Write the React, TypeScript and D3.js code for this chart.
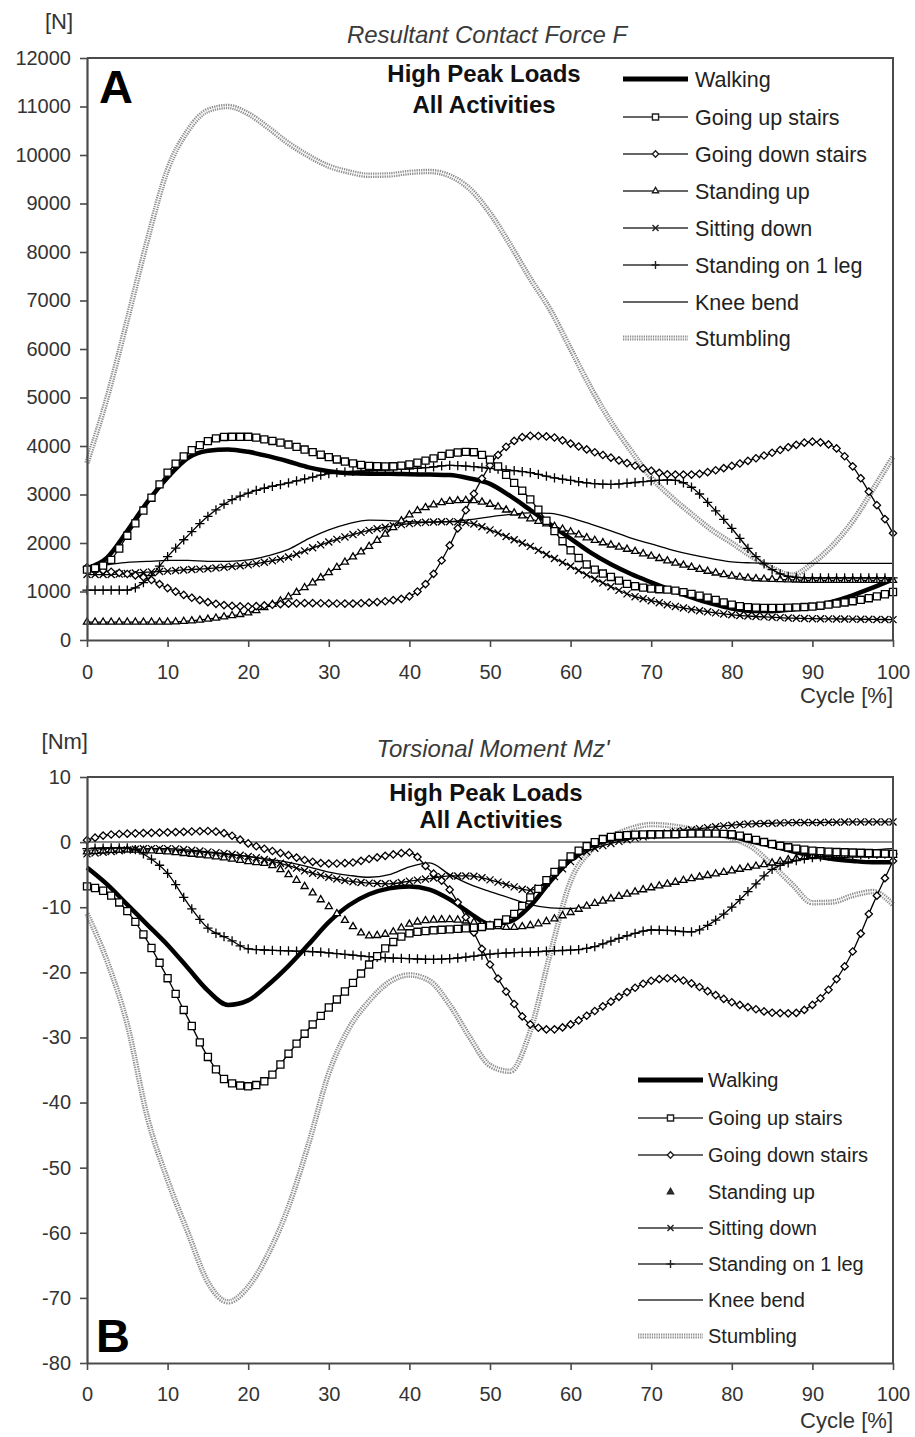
import React, { useEffect, useRef } from "react";
import * as d3 from "d3";

// ---------- data ----------
const cycle = [0, 2.5, 5, 7.5, 10, 12.5, 15, 17.5, 20, 22.5, 25, 27.5, 30, 32.5, 35, 37.5, 40, 42.5, 45, 47.5, 50, 52.5, 55, 57.5, 60, 62.5, 65, 67.5, 70, 72.5, 75, 77.5, 80, 82.5, 85, 87.5, 90, 92.5, 95, 97.5, 100];
const xTicks = [0, 10, 20, 30, 40, 50, 60, 70, 80, 90, 100];
const forceTicks = [0, 1000, 2000, 3000, 4000, 5000, 6000, 7000, 8000, 9000, 10000, 11000, 12000];
const momentTicks = [-80, -70, -60, -50, -40, -30, -20, -10, 0, 10];
const activities = ["Walking", "Going up stairs", "Going down stairs", "Standing up", "Sitting down", "Standing on 1 leg", "Knee bend", "Stumbling"];

// Panel A: resultant contact force F [N]
const walkingA = [1480, 1700, 2250, 2850, 3350, 3750, 3900, 3930, 3880, 3790, 3680, 3560, 3480, 3440, 3430, 3430, 3420, 3410, 3400, 3330, 3220, 2970, 2680, 2380, 2090, 1800, 1560, 1360, 1190, 1030, 880, 750, 650, 600, 595, 630, 690, 790, 920, 1080, 1250];
const upStairsA = [1450, 1580, 2150, 2800, 3450, 3850, 4100, 4190, 4190, 4120, 4030, 3900, 3770, 3660, 3590, 3580, 3620, 3720, 3840, 3880, 3720, 3320, 2900, 2350, 1850, 1500, 1300, 1130, 1060, 1030, 950, 850, 730, 670, 660, 670, 690, 740, 800, 880, 990];
const downStairsA = [1500, 1420, 1360, 1270, 1070, 900, 780, 710, 690, 720, 750, 760, 755, 750, 770, 810, 900, 1250, 1950, 2850, 3600, 4050, 4210, 4190, 4050, 3900, 3760, 3620, 3490, 3410, 3410, 3480, 3590, 3720, 3860, 4000, 4090, 4000, 3580, 2920, 2200];
const standingUpA = [370, 370, 370, 370, 370, 390, 430, 490, 560, 700, 890, 1130, 1390, 1660, 1930, 2250, 2580, 2760, 2860, 2880, 2800, 2650, 2500, 2370, 2230, 2080, 1960, 1850, 1730, 1610, 1500, 1400, 1320, 1270, 1250, 1240, 1230, 1230, 1230, 1230, 1230];
const sittingDownA = [1350, 1350, 1370, 1400, 1420, 1450, 1470, 1510, 1550, 1620, 1710, 1870, 2020, 2150, 2260, 2340, 2400, 2430, 2440, 2410, 2270, 2100, 1930, 1720, 1520, 1300, 1100, 920, 810, 710, 630, 570, 520, 490, 470, 450, 440, 435, 430, 425, 420];
const oneLegA = [1030, 1030, 1030, 1250, 1720, 2150, 2550, 2850, 3030, 3150, 3240, 3340, 3430, 3470, 3490, 3510, 3530, 3560, 3600, 3580, 3540, 3500, 3450, 3360, 3290, 3230, 3210, 3240, 3280, 3300, 3150, 2750, 2300, 1800, 1450, 1300, 1280, 1280, 1280, 1280, 1280];
const kneeBendA = [1500, 1550, 1600, 1620, 1640, 1640, 1620, 1620, 1650, 1740, 1870, 2090, 2270, 2400, 2470, 2460, 2440, 2430, 2440, 2480, 2540, 2590, 2620, 2610, 2520, 2390, 2250, 2100, 1980, 1860, 1760, 1680, 1610, 1590, 1580, 1580, 1580, 1580, 1580, 1580, 1580];
const stumblingA = [3650, 5000, 6600, 8250, 9700, 10500, 10920, 11000, 10850, 10560, 10240, 9980, 9770, 9650, 9580, 9590, 9640, 9660, 9570, 9300, 8800, 8150, 7450, 6800, 6000, 5200, 4500, 3900, 3350, 2950, 2600, 2270, 2000, 1720, 1480, 1340, 1580, 1950, 2450, 3100, 3780];

// Panel B: torsional moment Mz' [Nm]
const walkingB = [-3.9, -6.5, -9.6, -12.7, -15.8, -19.3, -22.8, -25, -24.3, -21.9, -19, -15.7, -12.3, -9.7, -8, -7.1, -6.8, -7.3, -8.8, -10.9, -12.6, -12.2, -9.8, -6, -2.7, -0.6, 0.4, 0.8, 0.9, 1, 1.1, 1.2, 0.8, 0.1, -0.6, -1.4, -2.1, -2.6, -2.9, -3.1, -3.1];
const upStairsB = [-6.8, -7.8, -10.6, -15.2, -20.9, -27, -33, -36.8, -37.5, -36.3, -32.5, -28.7, -25.4, -22.3, -18.8, -15.8, -14, -13.6, -13.4, -13.2, -12.8, -11.5, -8.5, -5.2, -2.2, -0.3, 0.8, 1.1, 1.2, 1.2, 1.3, 1.3, 1.2, 0.5, -0.3, -0.9, -1.3, -1.5, -1.6, -1.7, -1.8];
const downStairsB = [0.3, 1.1, 1.3, 1.4, 1.5, 1.6, 1.7, 1.2, -0.2, -1.2, -2, -2.9, -3.3, -3.2, -2.6, -2, -1.6, -4.3, -7.3, -12.7, -18.8, -23.9, -28, -28.8, -28, -26.3, -24.5, -22.7, -21.3, -20.9, -21.7, -23.2, -24.6, -25.5, -26.2, -26.3, -25, -21.9, -16.8, -9.6, -2.9];
const standingUpB = [-1.5, -1.3, -1.2, -1.3, -1.5, -1.8, -2.1, -2.5, -3, -3.4, -5, -7.3, -9.9, -12.5, -14.4, -14, -12.6, -12, -11.9, -12.2, -12.8, -13.1, -12.8, -12, -10.8, -9.6, -8.7, -7.8, -7, -6.3, -5.6, -5, -4.4, -3.8, -3.2, -2.6, -2.2, -2.1, -2, -2, -2];
const sittingDownB = [-1.8, -1.5, -1.2, -1, -1, -1.2, -1.5, -1.8, -2.2, -2.8, -3.6, -4.6, -5.4, -6, -6.3, -6.4, -6, -5.6, -5.2, -5.2, -5.8, -6.7, -7.4, -5.8, -3, -1.2, -0.2, 0.5, 1, 1.5, 1.9, 2.3, 2.6, 2.8, 2.9, 3, 3, 3.05, 3.1, 3.1, 3.1];
const oneLegB = [-1, -0.9, -0.9, -2.2, -4.8, -9.4, -13.2, -14.8, -16.4, -16.6, -16.7, -16.8, -17, -17.3, -17.6, -17.8, -17.9, -18, -17.9, -17.6, -17.2, -17, -16.9, -16.7, -16.6, -16.2, -15.2, -14.2, -13.5, -13.6, -13.8, -12.4, -10, -7, -4.2, -3, -2.4, -2.1, -2, -1.9, -1.8];
const kneeBendB = [-1.8, -1.6, -1.4, -1.2, -1.2, -1.4, -1.6, -1.9, -2.2, -2.6, -3.1, -3.8, -4.6, -5.1, -5.4, -5, -3.8, -3.2, -5, -6.5, -7.6, -8.6, -9.6, -10.1, -10.2, -9.7, -8.8, -7.9, -7.1, -6.4, -5.7, -5.1, -4.5, -3.9, -3.3, -2.7, -2.3, -2, -1.6, -1.2, -1];
const stumblingB = [-11, -18.3, -28, -42.3, -51.9, -59.9, -67.6, -70.6, -68.3, -63.2, -56, -46.3, -35.5, -28.6, -24.4, -21.5, -20.4, -21.3, -25, -30, -34.3, -35.2, -29, -17, -6, -1.3, 0.8, 2.1, 2.7, 2.5, 2, 1.4, 0.6, -0.8, -3.5, -6.5, -9.3, -9.2, -8.2, -7.6, -9.6];

// ---------- styles ----------
type Style = { width: number; marker: string | null; stumble?: boolean };
const stylesA: Style[] = [
  { width: 4.5, marker: null },
  { width: 1.3, marker: "square" },
  { width: 1.3, marker: "diamond" },
  { width: 1.3, marker: "triangle" },
  { width: 1.3, marker: "times" },
  { width: 1.3, marker: "plus" },
  { width: 1.3, marker: null },
  { width: 5, marker: null, stumble: true },
];
const stylesB: Style[] = stylesA.map((s, i) => (i === 3 ? { width: 0, marker: "triangle" } : s));

const FONT = "'Liberation Sans', Arial, Helvetica, sans-serif";
const drawOrder = [7, 6, 0, 4, 3, 5, 2, 1];

function symbolPath(type: string, scale = 1): string {
  const map: Record<string, [any, number]> = {
    square: [d3.symbolSquare2, 64],
    diamond: [d3.symbolDiamond2, 34],
    triangle: [d3.symbolTriangle2, 36],
    times: [d3.symbolTimes, 34],
    plus: [d3.symbolPlus, 30],
  };
  const [t, s] = map[type];
  return d3.symbol(t, s * scale)() as string;
}

function sampleAtX(node: SVGPathElement, xs: number[]): [number, number][] {
  const L = node.getTotalLength();
  const N = Math.max(400, Math.ceil(L));
  const pts: { x: number; y: number }[] = [];
  for (let i = 0; i <= N; i++) {
    const p = node.getPointAtLength((L * i) / N);
    pts.push({ x: p.x, y: p.y });
  }
  return xs.map((px) => {
    let lo = 0, hi = N;
    while (lo < hi) {
      const mid = (lo + hi) >> 1;
      if (pts[mid].x < px) lo = mid + 1; else hi = mid;
    }
    const b = pts[lo], a = pts[Math.max(0, lo - 1)];
    const t = b.x === a.x ? 0 : (px - a.x) / (b.x - a.x);
    return [px, a.y + (b.y - a.y) * t];
  });
}

type PanelCfg = {
  yDomain: [number, number];
  yRange: [number, number];
  yTicks: number[];
  data: number[][];
  styles: Style[];
  zeroLine: boolean;
  unit: string; unitX: number; unitY: number;
  title: string; titleX: number; titleY: number;
  head1Y: number; head2Y: number; head1X: number; head2X: number;
  letter: string; letterX: number; letterY: number;
  cycleY: number; tickPad: number;
  legX0: number; legX1: number; legTextX: number; legYs: number[]; legFont: number;
};

function drawPanel(svg: any, x: d3.ScaleLinear<number, number>, p: PanelCfg) {
  const g = svg.append("g");
  const y = d3.scaleLinear().domain(p.yDomain).range(p.yRange);
  const [yMin, yMax] = p.yDomain;
  const axisColor = "#4a4a4a";

  if (p.zeroLine) {
    g.append("line").attr("x1", x(0)).attr("x2", x(100)).attr("y1", y(0)).attr("y2", y(0))
      .attr("stroke", "#8c8c8c").attr("stroke-width", 2);
  }

  // series
  const line = d3.line<number>().x((_, i) => x(cycle[i])).y((d) => y(d)).curve(d3.curveMonotoneX);
  const markerXs = d3.range(0, 101, 1).map((k) => x(k));
  const layer = g.append("g");
  drawOrder.forEach((si) => {
    const st = p.styles[si];
    const d = line(p.data[si]) as string;
    if (st.stumble) {
      layer.append("path").attr("d", d).attr("fill", "none").attr("stroke", "#8e8e8e")
        .attr("stroke-width", 5.5).attr("stroke-dasharray", "1.3 1");
      layer.append("path").attr("d", d).attr("fill", "none").attr("stroke", "#ffffff")
        .attr("stroke-width", 1.2).attr("opacity", 0.8);
      return;
    }
    const path = layer.append("path").attr("d", d).attr("fill", "none")
      .attr("stroke", st.width > 0 ? "#000" : "none").attr("stroke-width", st.width)
      .attr("stroke-linejoin", "round");
    if (st.marker) {
      const pts = sampleAtX(path.node() as SVGPathElement, markerXs);
      const sym = symbolPath(st.marker);
      layer.append("g").selectAll("path").data(pts).join("path")
        .attr("d", sym)
        .attr("transform", (q: [number, number]) => `translate(${q[0]},${q[1]})`)
        .attr("fill", st.marker === "times" || st.marker === "plus" ? "none" : "#fff")
        .attr("stroke", "#000").attr("stroke-width", 1.3);
    }
  });

  // frame
  g.append("path").attr("d", `M${x(0)},${y(yMax)}H${x(100)}V${y(yMin)}`)
    .attr("fill", "none").attr("stroke", axisColor).attr("stroke-width", 2);

  // axes
  const ax = g.append("g").attr("transform", `translate(0,${y(yMin)})`)
    .call(d3.axisBottom(x).tickValues(xTicks).tickSize(7).tickPadding(p.tickPad).tickSizeOuter(0).tickFormat((v: any) => String(v)));
  const ay = g.append("g").attr("transform", `translate(${x(0)},0)`)
    .call(d3.axisLeft(y).tickValues(p.yTicks).tickSize(7).tickPadding(9).tickSizeOuter(0).tickFormat((v: any) => String(v)));
  [ax, ay].forEach((a) => {
    a.select(".domain").attr("stroke", axisColor).attr("stroke-width", 2.2);
    a.selectAll(".tick line").attr("stroke", axisColor).attr("stroke-width", 1.6);
    a.selectAll(".tick text").attr("fill", "#333").attr("font-size", 20).attr("font-family", FONT);
  });

  // texts
  const txt = (s: string, tx: number, ty: number, size: number, opts: any = {}) =>
    g.append("text").text(s).attr("x", tx).attr("y", ty).attr("font-size", size)
      .attr("font-family", FONT).attr("fill", opts.fill || "#333")
      .attr("text-anchor", opts.anchor || "start")
      .attr("font-weight", opts.weight || "normal")
      .attr("font-style", opts.style || "normal");

  txt(p.unit, p.unitX, p.unitY, 22, { anchor: "end" });
  txt(p.title, p.titleX, p.titleY, 24, { anchor: "middle", style: "italic", fill: "#3a3a3a" });
  txt("High Peak Loads", p.head1X, p.head1Y, 24, { anchor: "middle", weight: "bold", fill: "#111" });
  txt("All Activities", p.head2X, p.head2Y, 24, { anchor: "middle", weight: "bold", fill: "#111" });
  txt(p.letter, p.letterX, p.letterY, 47, { weight: "bold", fill: "#000" });
  txt("Cycle [%]", x(100), p.cycleY, 22, { anchor: "end" });

  // legend
  const lg = g.append("g");
  activities.forEach((name, i) => {
    const st = p.styles[i];
    const ly = p.legYs[i];
    const mid = (p.legX0 + p.legX1) / 2;
    if (st.stumble) {
      lg.append("line").attr("x1", p.legX0).attr("x2", p.legX1).attr("y1", ly).attr("y2", ly)
        .attr("stroke", "#8e8e8e").attr("stroke-width", 5).attr("stroke-dasharray", "1.3 1");
      lg.append("line").attr("x1", p.legX0).attr("x2", p.legX1).attr("y1", ly).attr("y2", ly)
        .attr("stroke", "#fff").attr("stroke-width", 1.1).attr("opacity", 0.8);
    } else if (st.width > 0) {
      lg.append("line").attr("x1", p.legX0).attr("x2", p.legX1).attr("y1", ly).attr("y2", ly)
        .attr("stroke", i === 0 ? "#000" : "#333").attr("stroke-width", i === 0 ? 5 : 1.6);
    }
    if (st.marker) {
      const filled = st.width === 0;
      lg.append("path").attr("d", symbolPath(st.marker, 0.75))
        .attr("transform", `translate(${mid},${ly})`)
        .attr("fill", filled ? "#333" : st.marker === "times" || st.marker === "plus" ? "none" : "#fff")
        .attr("stroke", "#222").attr("stroke-width", 1.4);
    }
    txt(name, p.legTextX, ly + p.legFont * 0.36, p.legFont, { fill: "#222" });
  });
}

export default function App() {
  const ref = useRef<SVGSVGElement>(null);
  useEffect(() => {
    const svg = d3.select(ref.current);
    svg.selectAll("*").remove();
    const x = d3.scaleLinear().domain([0, 100]).range([87, 893]);

    drawPanel(svg, x, {
      yDomain: [0, 12000], yRange: [640, 58], yTicks: forceTicks,
      data: [walkingA, upStairsA, downStairsA, standingUpA, sittingDownA, oneLegA, kneeBendA, stumblingA],
      styles: stylesA, zeroLine: false,
      unit: "[N]", unitX: 73, unitY: 29,
      title: "Resultant Contact Force F", titleX: 487, titleY: 43,
      head1X: 484, head1Y: 82, head2X: 484, head2Y: 113,
      letter: "A", letterX: 99, letterY: 103,
      cycleY: 703, tickPad: 18,
      legX0: 623, legX1: 688, legTextX: 695,
      legYs: [79, 117, 154, 191, 228, 265, 302, 338], legFont: 21.5,
    });

    drawPanel(svg, x, {
      yDomain: [-80, 10], yRange: [1363, 777], yTicks: momentTicks,
      data: [walkingB, upStairsB, downStairsB, standingUpB, sittingDownB, oneLegB, kneeBendB, stumblingB],
      styles: stylesB, zeroLine: true,
      unit: "[Nm]", unitX: 88, unitY: 749,
      title: "Torsional Moment Mz'", titleX: 493, titleY: 757,
      head1X: 486, head1Y: 801, head2X: 491, head2Y: 828,
      letter: "B", letterX: 96, letterY: 1352,
      cycleY: 1428, tickPad: 17,
      legX0: 638, legX1: 703, legTextX: 708,
      legYs: [1080, 1118, 1155, 1192, 1228, 1264, 1300, 1336], legFont: 20,
    });
  }, []);

  return (
    <svg ref={ref} width={915} height={1437}
      style={{ position: "absolute", left: 0, top: 0, background: "#fff" }} />
  );
}
